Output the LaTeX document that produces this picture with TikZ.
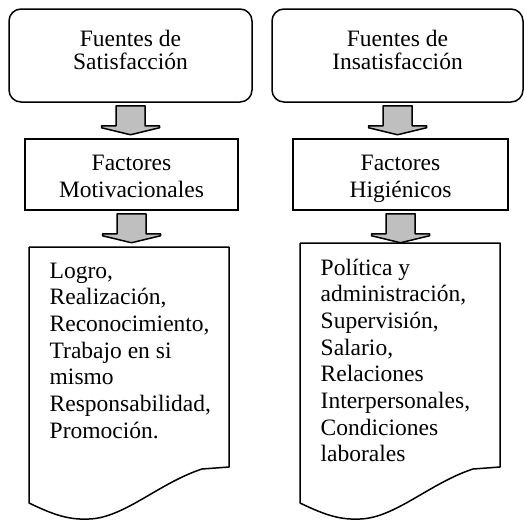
\documentclass[tikz,border=0pt]{standalone}
\usepackage{fontspec}
\setmainfont{Liberation Serif}
\usetikzlibrary{calc}
\tikzset{fuente/.style={draw, line width=1.5pt, rounded corners=12pt,
        minimum height=93pt, inner sep=0pt},
    factor/.style={draw, line width=1.5pt, minimum height=71pt, inner sep=0pt},
    texto/.style={align=center, inner sep=0pt, font=\fontsize{23.5}{27}\selectfont},
    lista/.style={align=left, inner xsep=20.5pt, inner ysep=15.5pt,
        font=\fontsize{23.5}{26.7}\selectfont},
    hoja/.style={line width=1.5pt, line join=round},
    flecha/.style={draw, line width=1.5pt, line join=bevel, fill=gray!50,
        to path={($(\tikztostart)+(-14.5,3)$) -- ($(\tikztostart)+(14.5,3)$)
        -- ($(\tikztostart)+(14.5,23)$) -- ($(\tikztostart)+(29,23)$)
        -- ($(\tikztostart)+(29,25)$) -- ($(\tikztostart)+(0,32)$)
        -- ($(\tikztostart)+(-29,25)$) -- ($(\tikztostart)+(-29,23)$)
        -- ($(\tikztostart)+(-14.5,23)$) -- cycle}}}

\begin{document}
\begin{tikzpicture}[x=1pt, y=-1pt]
    \useasboundingbox (0,0) rectangle (524,520);
    % fuentes
    \node[fuente, minimum width=243pt] (fs) at (130.5,55.5) {};
    \node[fuente, minimum width=251pt] (fi) at (397.5,55.5) {};
    \node[texto, anchor=north, font=\fontsize{23.5}{23.5}\selectfont] (fst)
        at ($(fs.north)+(0,21.5)$) {Fuentes de\\Satisfacción};
    \node[texto, anchor=north, font=\fontsize{23.5}{23.5}\selectfont] (fit)
        at ($(fi.north)+(0,21.5)$) {Fuentes de\\Insatisfacción};
    % factores
    \node[factor, minimum width=213pt] (ms) at (131.5,174.5) {};
    \node[factor, minimum width=215pt] (hi) at (400.5,174.5) {};
    \node[texto, anchor=north] (mst) at ($(ms.north)+(0,16.5)$) {Factores\\Motivacionales};
    \node[texto, anchor=north] (hit) at ($(hi.north)+(0,16.5)$) {Factores\\Higiénicos};
    % listas
    \node[lista, anchor=north west] (lm) at (29,247)
        {Logro,\\Realización,\\Reconocimiento,\\Trabajo en si\\mismo\\Responsabilidad,\\Promoción.};
    \node[lista, anchor=north west] (lh) at (300,243)
        {Política y\\administración,\\Supervisión,\\Salario,\\Relaciones\\Interpersonales,\\Condiciones\\laborales};
    \draw[hoja] (lm.north west) -- ++(0,256)
        .. controls +(25,12) and +(-20,1) .. ++(60,16)
        .. controls +(35,-1) and +(-43,14) .. ++(113,-50)
        -- ++(27,-2) |- (lm.north west);
    \draw[hoja] (lh.north west) -- ++(0,260)
        .. controls +(25,12) and +(-20,1) .. ++(60,16)
        .. controls +(35,-1) and +(-43,14) .. ++(113,-50)
        -- ++(27,-2) |- (lh.north west);
    % flechas
    \draw[flecha] (fs.south) to (ms.north);
    \draw[flecha] (fi.south) to (hi.north);
    \draw[flecha] (ms.south) to (lm.north);
    \draw[flecha] (hi.south) to (lh.north);
\end{tikzpicture}
\end{document}
